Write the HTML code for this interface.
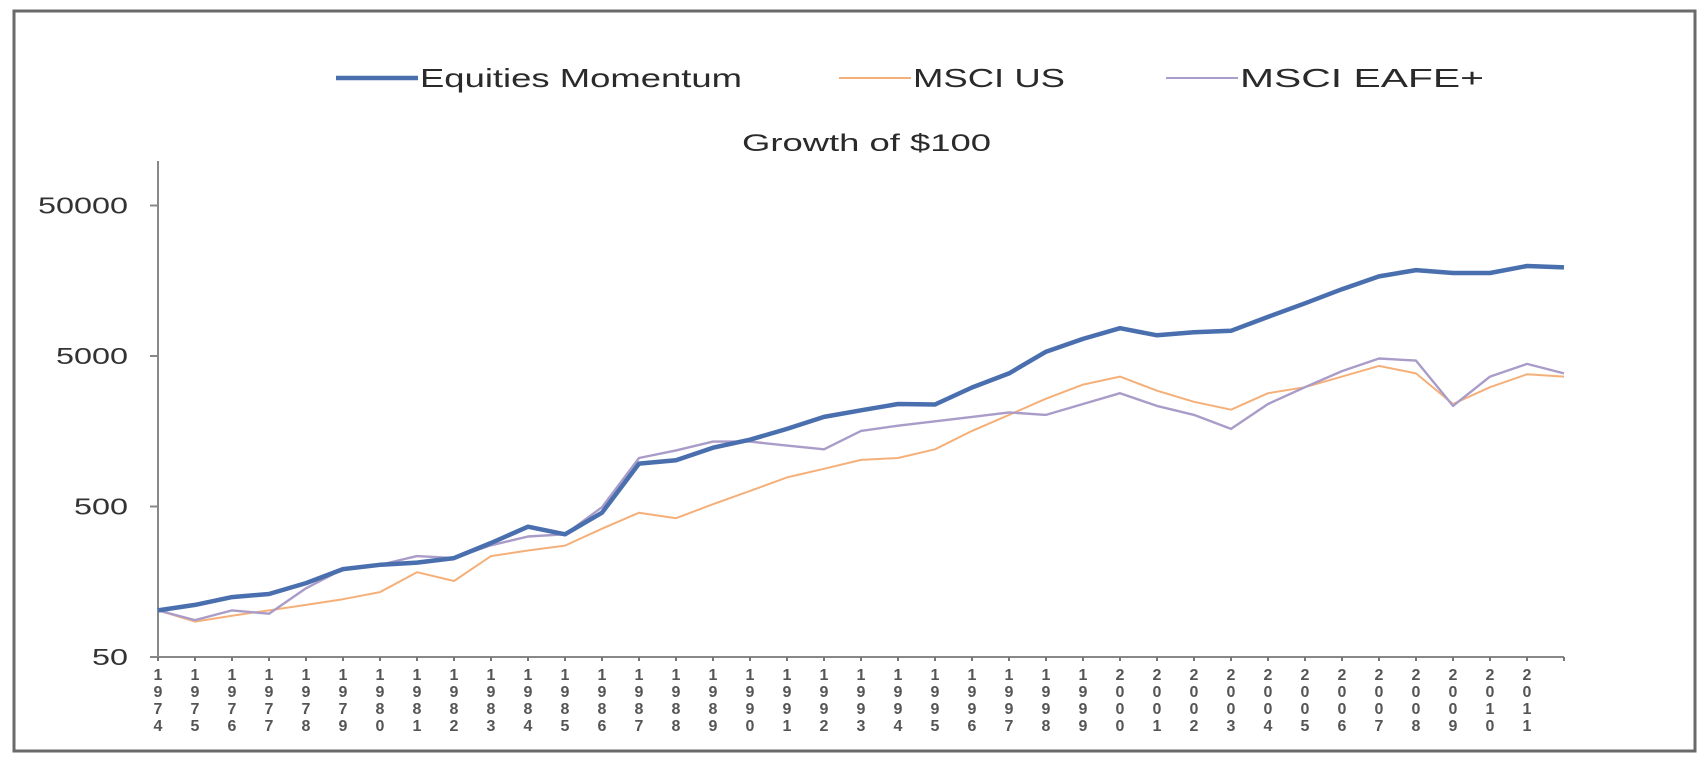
<!DOCTYPE html>
<html><head><meta charset="utf-8">
<style>
html,body{margin:0;padding:0;background:#fff;}
svg{display:block;font-family:"Liberation Sans",Arial,sans-serif;}
</style></head>
<body>
<svg id="chart" width="1708" height="764" viewBox="0 0 1708 764">
<rect x="14" y="11" width="1681" height="740" fill="#fff" stroke="#6a6a6a" stroke-width="3"/>
<g>
 <g>
  <line x1="336" y1="78" x2="418" y2="78" stroke="#4a6fae" stroke-width="4.5"/>
  <text x="420" y="87" font-size="26" fill="#2a2a2a" textLength="322" lengthAdjust="spacingAndGlyphs">Equities Momentum</text>
 </g>
 <g>
  <line x1="839" y1="78" x2="911" y2="78" stroke="#f5b07a" stroke-width="2"/>
  <text x="913" y="87" font-size="26" fill="#2a2a2a" textLength="152" lengthAdjust="spacingAndGlyphs">MSCI US</text>
 </g>
 <g>
  <line x1="1166" y1="78" x2="1238" y2="78" stroke="#a99cc8" stroke-width="2"/>
  <text x="1240" y="87" font-size="26" fill="#2a2a2a" textLength="244" lengthAdjust="spacingAndGlyphs">MSCI EAFE+</text>
 </g>
</g>
<text x="742" y="151" font-size="24" fill="#2a2a2a" textLength="249" lengthAdjust="spacingAndGlyphs">Growth of $100</text>
<g id="axes"></g>
<g id="series"></g>
</svg>
<script>
const years = [1974,1975,1976,1977,1978,1979,1980,1981,1982,1983,1984,1985,1986,1987,1988,1989,1990,1991,1992,1993,1994,1995,1996,1997,1998,1999,2000,2001,2002,2003,2004,2005,2006,2007,2008,2009,2010,2011,2012];
const momentum = [102,111,125,131,155,192,205,212,227,286,367,327,455,964,1015,1230,1390,1640,1970,2180,2400,2380,3090,3830,5340,6500,7650,6860,7200,7350,9100,11200,13900,16900,18600,17800,17800,19800,19400];
const msciUS = [102,86,94,102,111,121,135,183,160,234,255,275,356,455,418,518,635,780,890,1020,1050,1200,1590,2030,2600,3230,3650,2940,2480,2200,2830,3100,3650,4300,3830,2400,3100,3780,3650];
const msciEAFE = [102,88,102,97,143,192,205,234,227,276,316,327,495,1050,1180,1350,1350,1270,1200,1590,1720,1840,1970,2110,2030,2400,2830,2330,2030,1640,2400,3100,3970,4810,4660,2330,3650,4430,3830];
const yTicks = [50,500,5000,50000];
const yTickLabels = ["50","500","5000","50000"];
const xLabels = [1974,1975,1976,1977,1978,1979,1980,1981,1982,1983,1984,1985,1986,1987,1988,1989,1990,1991,1992,1993,1994,1995,1996,1997,1998,1999,2000,2001,2002,2003,2004,2005,2006,2007,2008,2009,2010,2011];

const NS="http://www.w3.org/2000/svg";
const x0=158, step=37, yBase=657, dec=150.5;
function xs(yr){return x0+(yr-1974)*step;}
function ys(v){return yBase-(Math.log10(v)-Math.log10(50))*dec;}
function mk(tag,attrs,parent){const e=document.createElementNS(NS,tag);for(const k in attrs)e.setAttribute(k,attrs[k]);parent.appendChild(e);return e;}
const axes=document.getElementById('axes');
const yAxis=mk('line',{x1:x0,y1:161,x2:x0,y2:yBase,stroke:'#888','stroke-width':2},axes);


const xAxis=mk('line',{x1:x0-8,y1:yBase,x2:xs(2012),y2:yBase,stroke:'#888','stroke-width':2},axes);


yTicks.forEach((v,i)=>{
  const lab=yTickLabels[i];
  const t=mk('text',{x:128,y:ys(v)+8,'font-size':23,'text-anchor':'end',fill:'#333',textLength:18*lab.length,lengthAdjust:'spacingAndGlyphs'},axes);
  t.textContent=lab;
  
  
  const tk=mk('line',{x1:x0-8,y1:ys(v),x2:x0,y2:ys(v),stroke:'#888','stroke-width':2},axes);
  
  
});
xLabels.concat([2012]).forEach(yr=>{
  const tk=mk('line',{x1:xs(yr),y1:yBase,x2:xs(yr),y2:yBase+4,stroke:'#777','stroke-width':2},axes);
  
  
});
xLabels.forEach(yr=>{
  const t=mk('text',{x:xs(yr),y:yBase+23,'font-size':16,'font-weight':'bold','text-anchor':'middle',fill:'#555'},axes);
  
  
  String(yr).split('').forEach((c,i)=>{
    const s=mk('tspan',{x:xs(yr),dy:i===0?0:17},t);
    s.textContent=c;
  });
});
const ser=document.getElementById('series');
function line(vals,color,w,name){
  const d=vals.map((v,i)=>(i?'L':'M')+xs(years[i]).toFixed(1)+' '+ys(v).toFixed(1)).join(' ');
  const p=mk('path',{d:d,fill:'none',stroke:color,'stroke-width':w,'stroke-linejoin':'round'},ser);
  
  
}
line(msciUS,'#f5b07a',2,'msci-us-line');
line(msciEAFE,'#a99cc8',2.4,'msci-eafe-line');
line(momentum,'#4a6fae',4.5,'equities-momentum-line');
</script>
</body></html>
